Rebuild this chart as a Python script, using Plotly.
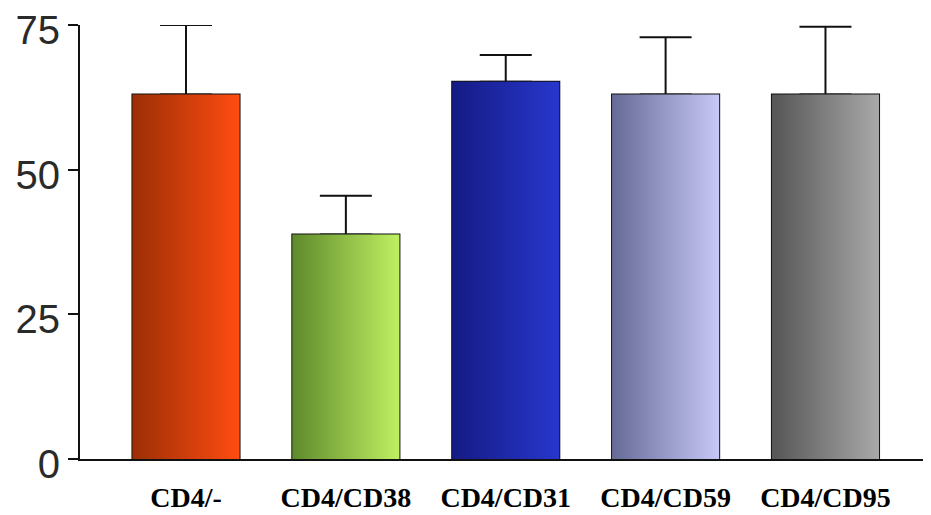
import plotly.graph_objects as go

categories = ["CD4/-", "CD4/CD38", "CD4/CD31", "CD4/CD59", "CD4/CD95"]
means = [63.0, 38.8, 65.2, 63.0, 63.0]
errors = [12.0, 6.7, 4.6, 9.9, 11.7]
y_ticks = [0, 25, 50, 75]

# gradient colours (left -> right) per bar
grad_left = ["#9c2f04", "#5f8a2c", "#151b84", "#666a96", "#555555"]
grad_right = ["#ff4c12", "#bff062", "#2737cc", "#c8c8f6", "#a9a9a9"]

bar_width = 0.67
xs = list(range(len(categories)))

fig = go.Figure()

for i, (v, cl, cr) in enumerate(zip(means, grad_left, grad_right)):
    x0, x1 = i - bar_width / 2, i + bar_width / 2
    fig.add_trace(go.Scatter(
        x=[x0, x1, x1, x0, x0], y=[0, 0, v, v, 0],
        mode="lines", line=dict(width=0), fill="toself",
        fillgradient=dict(type="horizontal", colorscale=[[0, cl], [1, cr]]),
        hoverinfo="skip", showlegend=False,
    ))

fig.add_trace(go.Bar(
    x=xs, y=means, width=bar_width,
    marker=dict(color="rgba(0,0,0,0)", line=dict(color="#111111", width=2)),
    error_y=dict(type="data", symmetric=False, array=errors,
                 arrayminus=[0] * len(errors), color="#111111",
                 thickness=2, width=26),
    cliponaxis=False, showlegend=False,
))

fig.update_layout(
    width=923, height=507,
    margin=dict(l=72, r=0, t=15, b=56),
    paper_bgcolor="white", plot_bgcolor="white",
    showlegend=False,
)
fig.update_xaxes(
    range=[-0.663, 4.66], tickmode="array", tickvals=xs, ticktext=categories,
    showgrid=False, zeroline=False, showline=True, linecolor="#111111",
    linewidth=2, ticks="", ticklabelstandoff=12,
    tickfont=dict(family="Liberation Serif", size=28, color="#000000",
                  weight="bold"),
)
fig.update_yaxes(
    range=[0, 75], tickmode="array", tickvals=y_ticks,
    showgrid=False, zeroline=False, showline=True, linecolor="#111111",
    linewidth=2, ticks="outside", ticklen=10, tickwidth=2,
    tickcolor="#111111", ticklabelstandoff=0, ticklabelshift=5,
    ticklabeloverflow="allow",
    tickfont=dict(family="Liberation Sans", size=40, color="#2a2a2a"),
)

fig.write_html("out.html")
